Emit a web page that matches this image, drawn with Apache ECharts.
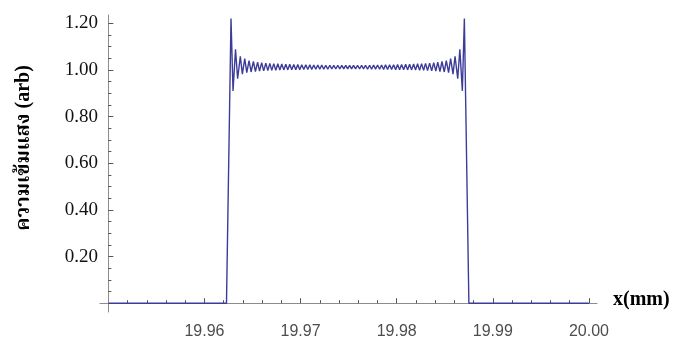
<!DOCTYPE html>
<html><head><meta charset="utf-8">
<script src="https://cdn.jsdelivr.net/npm/echarts@6/dist/echarts.min.js"></script>
<style>html,body{margin:0;padding:0;background:#fff}#c{width:675px;height:340px}</style>
</head><body><div id="c"></div>
<script>
// ---- data (x in mm, intensity in arb) ----
const xOrigin = 19.95;            // where the y axis crosses
const xRange = [19.94913, 20.00084];
const yRange = [-0.0378, 1.2353];
const xTickLabels = [19.96, 19.97, 19.98, 19.99, 20.00];
const xMinorTicks = [19.952,19.954,19.956,19.958,19.962,19.964,19.966,19.968,19.972,19.974,19.976,19.978,19.982,19.984,19.986,19.988,19.992,19.994,19.996,19.998];
const yTickLabels = [0.2, 0.4, 0.6, 0.8, 1.0, 1.2];
const yMinorTicks = [0.05,0.10,0.15,0.25,0.30,0.35,0.45,0.50,0.55,0.65,0.70,0.75,0.85,0.90,0.95,1.05,1.10,1.15];
const xPositions = [
19.95000,19.96229,19.96276,19.96297,19.96323,19.96345,19.96373,19.96394,19.96419,19.96440,
19.96464,19.96485,19.96509,19.96530,19.96553,19.96573,19.96595,19.96616,19.96638,19.96659,
19.96680,19.96700,19.96721,19.96742,19.96763,19.96784,19.96804,19.96825,19.96846,19.96867,
19.96887,19.96908,19.96929,19.96950,19.96971,19.96991,19.97012,19.97033,19.97054,19.97075,
19.97096,19.97116,19.97137,19.97158,19.97179,19.97200,19.97220,19.97241,19.97262,19.97283,
19.97304,19.97325,19.97345,19.97366,19.97387,19.97408,19.97429,19.97449,19.97470,19.97490,
19.97510,19.97531,19.97551,19.97572,19.97593,19.97614,19.97635,19.97655,19.97676,19.97697,
19.97718,19.97739,19.97760,19.97780,19.97801,19.97822,19.97843,19.97864,19.97884,19.97905,
19.97926,19.97947,19.97968,19.97989,19.98009,19.98030,19.98051,19.98072,19.98093,19.98113,
19.98134,19.98155,19.98176,19.98196,19.98217,19.98238,19.98259,19.98280,19.98300,19.98321,
19.98342,19.98364,19.98385,19.98407,19.98427,19.98450,19.98471,19.98495,19.98516,19.98540,
19.98561,19.98586,19.98607,19.98635,19.98657,19.98683,19.98704,19.98751,20.00000
];
const intensity = [
0,0,1.220,0.910,1.088,0.962,1.058,0.982,1.048,0.988,
1.040,0.991,1.036,0.993,1.033,0.995,1.031,0.996,1.029,0.997,
1.028,0.998,1.027,0.998,1.026,0.999,1.025,1.000,1.024,1.000,
1.024,1.001,1.023,1.001,1.023,1.001,1.022,1.002,1.022,1.002,
1.022,1.002,1.021,1.003,1.021,1.003,1.021,1.003,1.020,1.003,
1.020,1.004,1.020,1.004,1.020,1.004,1.019,1.004,1.019,1.004,
1.019,1.004,1.019,1.004,1.020,1.004,1.020,1.004,1.020,1.003,
1.020,1.003,1.021,1.003,1.021,1.003,1.021,1.002,1.022,1.002,
1.022,1.002,1.022,1.001,1.023,1.001,1.023,1.001,1.024,1.000,
1.024,1.000,1.025,0.999,1.026,0.998,1.027,0.998,1.028,0.997,
1.029,0.996,1.031,0.995,1.033,0.993,1.036,0.991,1.040,0.988,
1.048,0.982,1.058,0.962,1.088,0.910,1.220,0,0
];
const yTitle = 'ความเข้มแสง (arb)';
const xTitle = 'x(mm)';

// ---- chart ----
const sh = v => +(v - xOrigin).toFixed(6);
const seriesData = xPositions.map((x, i) => [sh(x), intensity[i]]);
const axisGray = '#8c8c8c', tickCol = '#555';
const serifThai = '"Liberation Serif", "Norasi", "Kinnari", "Noto Serif Thai", "Tlwg Typo", serif';
const chart = echarts.init(document.getElementById('c'), null, {renderer: 'canvas'});
const xBase = {
  type: 'value', min: sh(xRange[0]), max: sh(xRange[1]), position: 'bottom',
  splitLine: {show: false}
};
const yBase = {
  type: 'value', min: yRange[0], max: yRange[1], position: 'left',
  splitLine: {show: false}
};
chart.setOption({
  animation: false,
  grid: {left: 100, right: 78, top: 15, bottom: 22, containLabel: false},
  xAxis: [
    Object.assign({}, xBase, {
      axisLine: {show: true, onZero: true, onZeroAxisIndex: 0, lineStyle: {color: axisGray, width: 1}},
      axisTick: {show: true, inside: true, length: 5, customValues: xTickLabels.map(sh), lineStyle: {color: tickCol}},
      axisLabel: {show: true, customValues: xTickLabels.map(sh), formatter: v => (v + xOrigin).toFixed(2),
        margin: 12, fontFamily: 'Liberation Sans', fontSize: 16, color: '#4d4d4d'}
    }),
    Object.assign({}, xBase, {
      axisLine: {show: false, onZero: true, onZeroAxisIndex: 0},
      axisTick: {show: true, inside: true, length: 3, customValues: xMinorTicks.map(sh), lineStyle: {color: tickCol}},
      axisLabel: {show: false}
    })
  ],
  yAxis: [
    Object.assign({}, yBase, {
      axisLine: {show: true, onZero: true, onZeroAxisIndex: 0, lineStyle: {color: axisGray, width: 1}},
      axisTick: {show: true, inside: true, length: 5, customValues: yTickLabels, lineStyle: {color: tickCol}},
      axisLabel: {show: true, customValues: yTickLabels, formatter: v => v.toFixed(2),
        margin: 2, fontFamily: 'Liberation Serif', fontSize: 19, color: '#111'}
    }),
    Object.assign({}, yBase, {
      axisLine: {show: false, onZero: true, onZeroAxisIndex: 0},
      axisTick: {show: true, inside: true, length: 3, customValues: yMinorTicks, lineStyle: {color: tickCol}},
      axisLabel: {show: false}
    })
  ],
  series: [{
    type: 'line', xAxisIndex: 0, yAxisIndex: 0, data: seriesData,
    showSymbol: false, symbol: 'none', silent: true,
    lineStyle: {color: '#3d3d99', width: 1.4}
  }],
  graphic: [
    {type: 'text', x: 24, y: 148, rotation: Math.PI / 2,
     style: {text: yTitle, font: 'bold 20px ' + serifThai, fill: '#000', align: 'center', verticalAlign: 'middle'}},
    {type: 'text', x: 613, y: 300,
     style: {text: xTitle, font: 'bold 20px "Liberation Serif", serif', fill: '#000', align: 'left', verticalAlign: 'middle'}}
  ]
});
</script>
</body></html>
